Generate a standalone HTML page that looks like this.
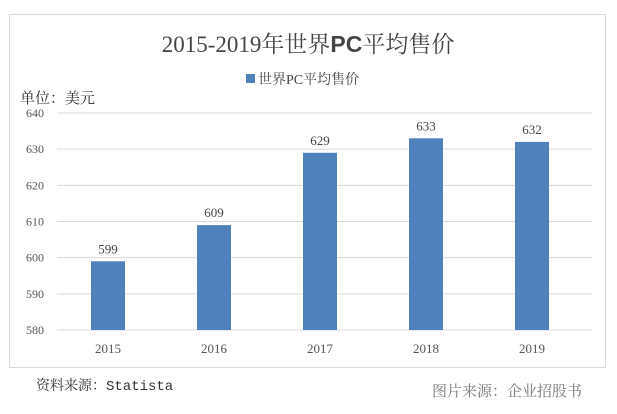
<!DOCTYPE html>
<html><head><meta charset="utf-8"><style>
body{margin:0;background:#fff;width:617px;height:409px;overflow:hidden;font-family:"Liberation Serif","Noto Serif CJK SC",serif;}
svg text{font-family:"Liberation Serif","Noto Serif CJK SC",serif;}
</style></head><body>
<svg width="617" height="409">
<rect x="9.5" y="14.5" width="596" height="353" fill="#fff" stroke="#d9d9d9"/>
<text x="308" y="52" font-size="23" fill="#444" text-anchor="middle">2015-2019年世界<tspan font-family="Liberation Sans" font-weight="bold">PC</tspan>平均售价</text>
<rect x="246" y="74" width="9" height="9" fill="#4f81bd"/>
<text x="258" y="84" font-size="14" fill="#444">世界PC平均售价</text>
<text x="20" y="103" font-size="15" fill="#333">单位：美元</text>
<g id="grid"></g><g id="bars"></g>
<text x="36" y="390" font-size="14" fill="#333">资料来源：<tspan font-family="Liberation Mono">Statista</tspan></text>
<text x="582" y="396" font-size="15" fill="#777" text-anchor="end" font-family="Liberation Sans">图片来源：企业招股书</text>
</svg>
<script>
const categories=["2015","2016","2017","2018","2019"];
const values=[599,609,629,633,632];
const ticks=[580,590,600,610,620,630,640];
const ns="http://www.w3.org/2000/svg";
const y=v=>330-(v-580)*(330-113)/60;
const x=i=>108+i*106;
const g=document.getElementById("grid"),b=document.getElementById("bars");
function mk(t,a,p){const e=document.createElementNS(ns,t);for(const k in a)e.setAttribute(k,a[k]);p.appendChild(e);return e;}
ticks.forEach(t=>{
const l=mk("line",{x1:57,x2:592,y1:y(t),y2:y(t),stroke:"#d9d9d9"},g);


const tx=mk("text",{x:44,y:y(t)+4,"font-size":12,fill:"#555","text-anchor":"end"},g);
tx.textContent=t;


});
categories.forEach((c,i)=>{
const r=mk("rect",{x:x(i)-17,y:y(values[i]),width:34,height:330-y(values[i]),fill:"#4f81bd"},b);


const v=mk("text",{x:x(i),y:y(values[i])-8,"font-size":13,fill:"#444","text-anchor":"middle"},b);
v.textContent=values[i];


const cl=mk("text",{x:x(i),y:353,"font-size":13,fill:"#555","text-anchor":"middle"},b);
cl.textContent=c;


});
</script>
</body></html>
